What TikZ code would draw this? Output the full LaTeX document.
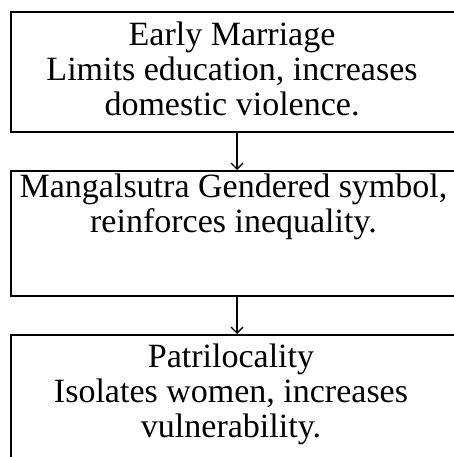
\documentclass[tikz,border=0pt]{standalone}
\usepackage{fontspec}
\setmainfont{Liberation Serif}
\usetikzlibrary{arrows.meta}
\begin{document}
\begin{tikzpicture}[x=1pt,y=1pt,
  stagebox/.style={draw=black,line width=2pt,rectangle,inner sep=0pt,minimum width=480pt},
  stagetext/.style={anchor=north,inner sep=0pt,align=center,font=\fontsize{34}{35}\selectfont},
  flowarrow/.style={line width=2.2pt,-{Straight Barb[length=6pt,width=12pt,line width=1.3pt]}}]
\useasboundingbox (0,0) rectangle (454,-457);
\clip (0,0) rectangle (454,-457);
% boxes (left edge at x=11, right edge beyond the picture)
\node[stagebox,minimum height=120pt] (b1) at (251,-72) {};
\node[stagebox,minimum height=125pt] (b2) at (251,-233.5) {};
\node[stagebox,minimum height=170pt] (b3) at (251,-420) {};
% texts
\node[stagetext] (t1) at (232,-22) {Early Marriage\\Limits education, increases\\domestic violence.};
\node[stagetext] (t2) at (233.5,-174) {Mangalsutra Gendered symbol,\\reinforces inequality.};
\node[stagetext] (t3) at (231,-344) {Patrilocality\\Isolates women, increases\\vulnerability.};
% connectors
\draw[flowarrow] ([xshift=-14pt]b1.south) -- ([xshift=-14pt]b2.north);
\draw[flowarrow] ([xshift=-14pt]b2.south) -- ([xshift=-14pt]b3.north);
\end{tikzpicture}
\end{document}
